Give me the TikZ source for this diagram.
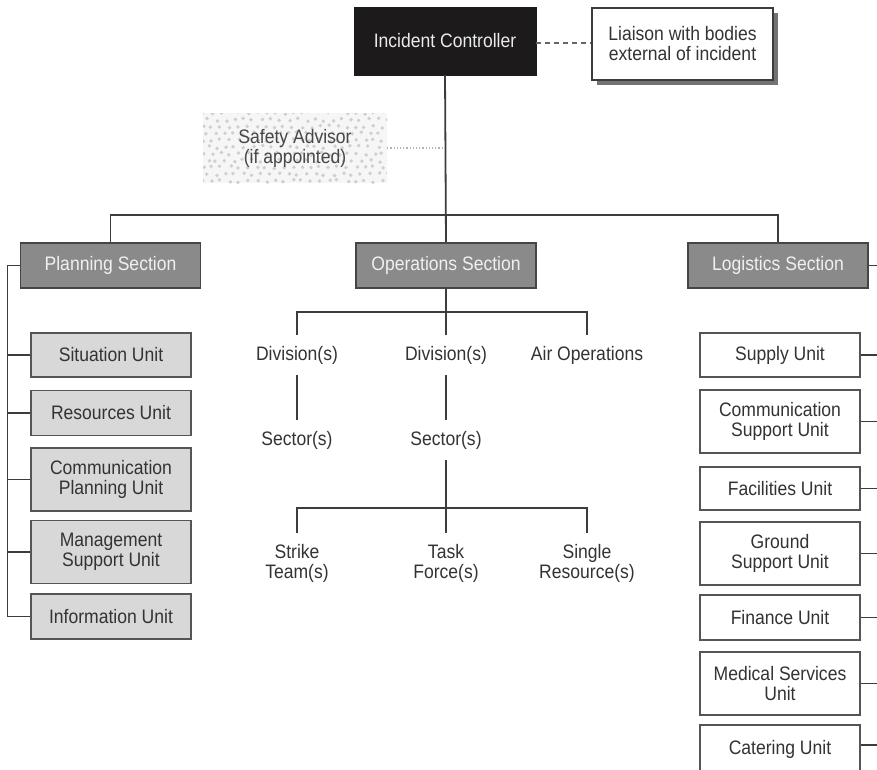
\documentclass[tikz,border=0pt]{standalone}
\usepackage{fontspec}
\setmainfont[FakeStretch=0.9]{Liberation Sans}
\usetikzlibrary{shadows}
\definecolor{linec}{HTML}{3C3C3C}
\definecolor{txtc}{HTML}{333333}
\definecolor{icfill}{HTML}{1C1A1A}
\definecolor{secfill}{HTML}{8A8A8A}
\definecolor{secdraw}{HTML}{454545}
\definecolor{unitfill}{HTML}{D8D8D8}
\definecolor{unitdraw}{HTML}{555555}
\definecolor{dotc}{HTML}{CFCFCF}
\definecolor{sfill}{HTML}{F6F6F6}
\tikzset{
  base/.style={font=\fontsize{19.5}{20}\selectfont, text=txtc, align=center, inner sep=0pt},
  icbox/.style={base, fill=icfill, draw=icfill, text=white!92!black, minimum width=182pt, minimum height=68pt},
  liaison/.style={base, fill=white, draw=linec, line width=1.4pt, minimum width=181pt, minimum height=72pt,
     drop shadow={shadow xshift=5pt, shadow yshift=-5pt, fill=black!55, opacity=1}},
  secbox/.style={base, fill=secfill, draw=secdraw, line width=1.6pt, text=white!94!black, minimum width=180pt, minimum height=45pt},
  pbox/.style={base, fill=unitfill, draw=unitdraw, line width=1.5pt, minimum width=160pt},
  lbox/.style={base, fill=white, draw=unitdraw, line width=1.5pt, minimum width=160pt},
  optext/.style={base, minimum height=40pt},
  conn/.style={draw=linec, line width=1.8pt},
}
\begin{document}
\begin{tikzpicture}[x=1pt,y=-1pt]
\useasboundingbox (0,0) rectangle (877,769);
\clip (0,0) rectangle (877,769);
\pgfmathsetseed{7}
% top
\node[icbox] (ic) at (445,41) {Incident Controller};
\node[liaison] (li) at (682.5,44) {Liaison with bodies\\external of incident};
\draw[black!60, line width=1.5pt, dash pattern=on 5pt off 4pt] (ic.east |- 0,43) -- (li.west |- 0,43);
% safety advisor
\node[base, text=black!70, fill=sfill, minimum width=184pt, minimum height=70pt,
  path picture={\foreach \j in {0,...,11}{\foreach \i in {0,...,21}{
    \pgfmathsetmacro\dx{\i*9+mod(\j,2)*4.5+rand*2}
    \pgfmathsetmacro\dy{-\j*6.8+rand*1.5}
    \fill[dotc] ([xshift=\dx pt, yshift=\dy pt]path picture bounding box.north west) circle (1.9pt);}}}]
  (sa) at (295,148) {\phantom{X}};
\node[base, text=black!72] (satext) at (295,148) {Safety Advisor\\(if appointed)};
% sections
\node[secbox] (plan) at (110.5,265.5) {Planning Section};
\node[secbox] (ops) at (446,265.5) {Operations Section};
\node[secbox] (log) at (778,265.5) {Logistics Section};
\draw[black!30, line width=1.2pt, dotted] (sa.east) -- (sa.east -| ic.south);
\coordinate (b0) at (446,215);
\draw[conn] (ic.south) -- (ops.north);
\draw[conn] (plan.north) |- (b0) -| (log.north);
% planning units
\node[pbox, minimum height=44pt] (p1) at (111,355) {Situation Unit};
\node[pbox, minimum height=45pt] (p2) at (111,413) {Resources Unit};
\node[pbox, minimum height=63pt] (p3) at (111,479.5) {Communication\\Planning Unit};
\node[pbox, minimum height=63pt] (p4) at (111,552) {Management\\Support Unit};
\node[pbox, minimum height=45pt] (p5) at (111,616.5) {Information Unit};
\coordinate (ps) at (7.5,616.5);
\draw[conn] (plan.west) -| (ps);
\foreach \u in {p1,p2,p3,p4,p5} \draw[conn] (\u.west) -- (\u.west -| ps);
% logistics units
\node[lbox, minimum height=44pt] (l1) at (780,355) {Supply Unit};
\node[lbox, minimum height=63pt] (l2) at (780,421.5) {Communication\\Support Unit};
\node[lbox, minimum height=43pt] (l3) at (780,488.5) {Facilities Unit};
\node[lbox, minimum height=63pt] (l4) at (780,553.5) {Ground\\Support Unit};
\node[lbox, minimum height=45pt] (l5) at (780,617.5) {Finance Unit};
\node[lbox, minimum height=63pt] (l6) at (780,683.5) {Medical Services\\Unit};
\node[lbox, minimum height=48pt] (l7) at (780,749) {Catering Unit};
\coordinate (ls) at (880,265.5);
\draw[conn] (log.east) -- (log.east -| ls);
\foreach \u in {l1,l2,l3,l4,l5,l6} \draw[conn] (\u.east) -- (\u.east -| ls);
\draw[conn] (l7.east |- 0,745) -- (ls |- 0,745);
% operations tree
\node[optext] (d1) at (297,355) {Division(s)};
\node[optext] (d2) at (446,355) {Division(s)};
\node[optext] (air) at (587,355) {Air Operations};
\node[optext] (s1) at (297,440) {Sector(s)};
\node[optext] (s2) at (446,440) {Sector(s)};
\node[base, minimum height=60pt] (t1) at (297,563) {Strike\\Team(s)};
\node[base, minimum height=60pt] (t2) at (446,563) {Task\\Force(s)};
\node[base, minimum height=60pt] (t3) at (587,563) {Single\\Resource(s)};
\coordinate (b1) at (446,312);
\coordinate (b2) at (446,508);
\draw[conn] (ops.south) -- (d2.north);
\draw[conn] (d1.north) |- (b1) -| (air.north);
\draw[conn] (d1.south) -- (s1.north);
\draw[conn] (d2.south) -- (s2.north);
\draw[conn] (s2.south) -- (t2.north);
\draw[conn] (t1.north) |- (b2) -| (t3.north);
\end{tikzpicture}
\end{document}
